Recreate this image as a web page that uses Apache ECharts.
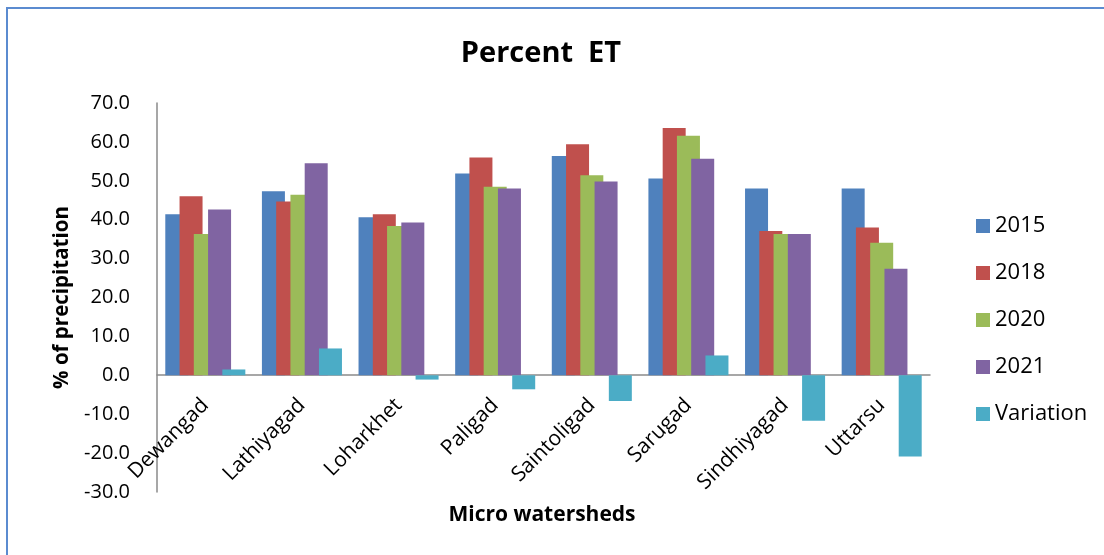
<!DOCTYPE html>
<html>
<head>
<meta charset="utf-8">
<title>Percent ET</title>
<script src="https://cdn.jsdelivr.net/npm/echarts@6/dist/echarts.min.js"></script>
<style>
  html, body { margin: 0; padding: 0; background: #ffffff; }
  #chart { width: 1104px; height: 555px; }
</style>
</head>
<body>
<div id="chart"></div>
<script>
// Micro watersheds on the category axis
const watersheds = ['Dewangad', 'Lathiyagad', 'Loharkhet', 'Paligad', 'Saintoligad', 'Sarugad', 'Sindhiyagad', 'Uttarsu'];

// ET as % of precipitation, per year
const et2015 = [41.4, 47.3, 40.6, 51.9, 56.4, 50.6, 48.0, 48.0];
const et2018 = [46.0, 44.7, 41.4, 56.0, 59.4, 63.6, 37.1, 38.0];
const et2020 = [36.3, 46.4, 38.4, 48.5, 51.4, 61.6, 36.3, 34.1];
const et2021 = [42.6, 54.5, 39.3, 48.0, 49.8, 55.7, 36.3, 27.4];
const variation = [1.5, 6.9, -1.1, -3.6, -6.6, 5.1, -11.7, -20.9];

const seriesNames = ['2015', '2018', '2020', '2021', 'Variation'];
const seriesData = [et2015, et2018, et2020, et2021, variation];
const seriesColors = ['#4F81BD', '#C0504D', '#9BBB59', '#8064A2', '#4BACC6'];

// Value axis range
const yMin = -30;
const yMax = 70;
const yStep = 10;

const FONT = "'Open Sans', 'DejaVu Sans', sans-serif";

// Plot area
const gridTop = 103;
const gridBottom = 63;
const plotHeight = 555 - gridTop - gridBottom;
// Lift the category axis (line and labels) up to the zero line
const zeroLift = Math.round(plotHeight * (0 - yMin) / (yMax - yMin));

const chart = echarts.init(document.getElementById('chart'), null, { renderer: 'canvas' });

chart.setOption({
  animation: false,
  backgroundColor: '#ffffff',
  title: {
    text: 'Percent  ET',
    left: 536,
    top: 34,
    textAlign: 'center',
    textStyle: { fontFamily: FONT, fontSize: 29, fontWeight: 'bold', color: '#000000' }
  },
  legend: {
    orient: 'vertical',
    left: 971,
    top: 210,
    itemWidth: 14,
    itemHeight: 14,
    itemGap: 25,
    icon: 'rect',
    data: seriesNames,
    textStyle: { fontFamily: FONT, fontSize: 22, lineHeight: 22, color: '#000000' }
  },
  grid: {
    left: 157, right: 174, top: gridTop, bottom: gridBottom,
    containLabel: false,
    outerBoundsMode: 'none'
  },
  xAxis: {
    type: 'category',
    data: watersheds,
    position: 'bottom',
    offset: -zeroLift,
    axisLine: { onZero: false, lineStyle: { color: '#8a8a8a', width: 1.5 } },
    axisTick: { show: false },
    axisLabel: {
      rotate: 45,
      interval: 0,
      margin: 27,
      fontFamily: FONT,
      fontSize: 21,
      color: '#000000'
    }
  },
  yAxis: {
    type: 'value',
    min: yMin,
    max: yMax,
    interval: yStep,
    name: '% of precipitation',
    nameLocation: 'middle',
    nameGap: 78,
    nameTextStyle: { fontFamily: FONT, fontSize: 20.5, fontWeight: 'bold', color: '#000000' },
    axisLine: { show: true, lineStyle: { color: '#8a8a8a', width: 1.5 } },
    axisTick: { show: false },
    splitLine: { show: false },
    axisLabel: {
      margin: 27,
      fontFamily: FONT,
      fontSize: 20,
      color: '#000000',
      formatter: v => v.toFixed(1)
    }
  },
  graphic: [
    {
      type: 'rect',
      silent: true,
      shape: { x: 7, y: 8, width: 1300, height: 700 },
      style: { fill: 'none', stroke: '#5b8bd0', lineWidth: 2 }
    },
    {
      type: 'text',
      silent: true,
      x: 542,
      y: 515,
      style: {
        text: 'Micro watersheds',
        fontFamily: FONT,
        fontSize: 21,
        fontWeight: 'bold',
        fill: '#000000',
        align: 'center',
        verticalAlign: 'middle'
      }
    }
  ],
  series: seriesNames.map((name, i) => ({
    name: name,
    type: 'bar',
    data: seriesData[i],
    barWidth: 23,
    barGap: '-38%',
    itemStyle: { color: seriesColors[i] }
  }))
});
</script>
</body>
</html>
